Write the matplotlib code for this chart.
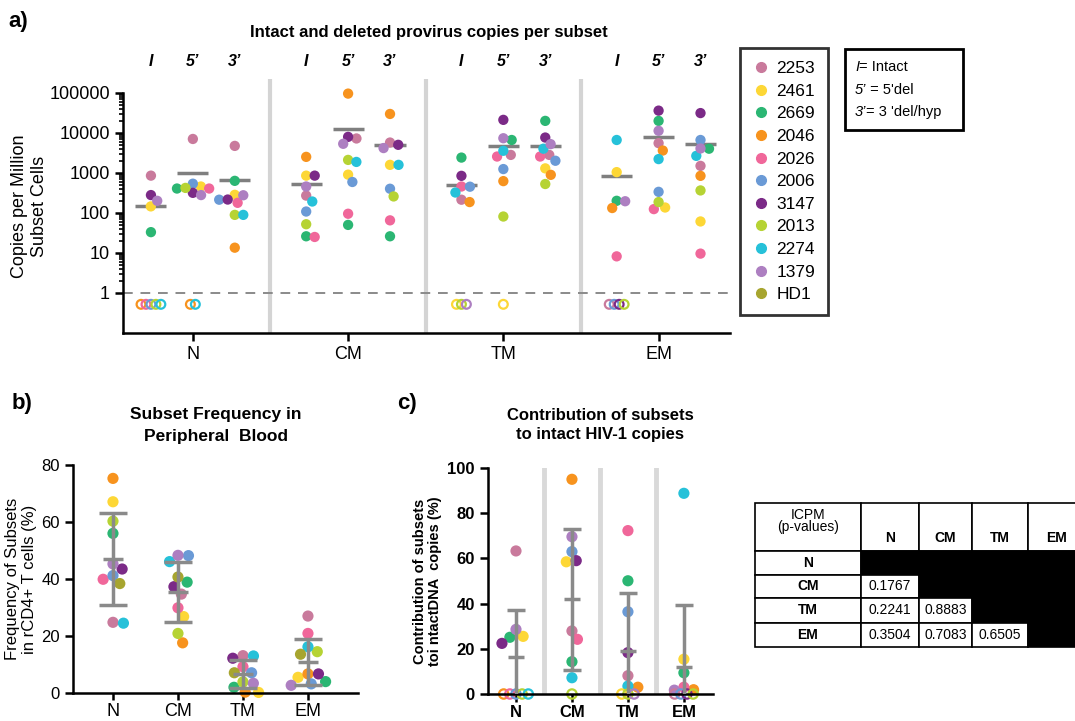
import numpy as np
import matplotlib
matplotlib.use('Agg')
import matplotlib.pyplot as plt
from matplotlib.lines import Line2D
from matplotlib.patches import Rectangle
from matplotlib.ticker import FixedLocator, NullFormatter
import matplotlib.transforms as mtransforms

plt.rcParams['font.family'] = ['Liberation Sans', 'DejaVu Sans']

patients = ['2253', '2461', '2669', '2046', '2026', '2006', '3147', '2013', '2274', '1379', 'HD1']
colors = ['#c97a9c', '#fdd736', '#2bb673', '#f7931e', '#f0679a', '#6a9ad6',
          '#7b2a87', '#b6d334', '#26c1d9', '#ad7fc1', '#a7a52f']
subsets = ['N', 'CM', 'TM', 'EM']
regions = ['I', '5\u2019', '3\u2019']

# a) copies per million subset cells, patient order as above (no HD1), 0 = not detected
N_I = [850, 145, 33, 0, 0, 0, 278, 0, 0, 200]
N_5 = [7000, 455, 405, 0, 405, 535, 316, 420, 0, 278]
N_3 = [4700, 282, 630, 13.5, 178, 213, 215, 89, 89, 275]
CM_I = [270, 850, 26, 2500, 25, 108, 850, 52, 192, 455]
CM_5 = [7200, 900, 50, 95000, 95, 590, 7900, 2100, 1870, 5300]
CM_3 = [5700, 1580, 26, 29500, 65, 400, 5000, 257, 1580, 4150]
TM_I = [213, 0, 2400, 186, 455, 450, 840, 0, 322, 0]
TM_5 = [2800, 0, 6600, 620, 2550, 1240, 21000, 81, 3550, 7300]
TM_3 = [2800, 1290, 19800, 890, 2550, 2000, 7600, 525, 4000, 5200]
EM_I = [0, 1040, 200, 132, 8.2, 0, 0, 0, 6600, 195]
EM_5 = [5500, 136, 19800, 3600, 124, 335, 35700, 186, 2200, 11200]
EM_3 = [1490, 61, 4000, 840, 9.6, 6600, 31000, 363, 2650, 4050]

# b) subset frequency in rCD4+ T cells (%), with HD1
freq_N = [24.8, 67.1, 56.0, 75.3, 39.9, 41.2, 43.5, 60.3, 24.5, 45.3, 38.4]
freq_CM = [34.7, 26.8, 38.9, 17.6, 29.9, 48.2, 37.3, 20.9, 46.1, 48.3, 40.7]
freq_TM = [13.1, 0.2, 2.0, 0.3, 9.2, 7.1, 12.2, 3.9, 13.0, 3.4, 7.1]
freq_EM = [27.0, 5.5, 4.0, 6.7, 20.9, 3.2, 6.7, 14.5, 16.2, 2.7, 13.6]

# c) contribution of subsets to intact copies (%)
contrib_N = [63.3, 25.5, 25.1, 0, 0, 0, 22.4, 0, 0, 28.6]
contrib_CM = [27.9, 58.5, 14.3, 95.0, 24.2, 63.0, 59.0, 0, 7.2, 69.6]
contrib_TM = [8.1, 0, 50.1, 3.0, 72.3, 36.4, 18.3, 0, 3.5, 0]
contrib_EM = [0, 15.4, 9.4, 1.9, 3.0, 0, 0, 0, 88.8, 1.7]

# p-value table (ICPM), lower triangle
pvals = [[None, None, None, None],
         [0.1767, None, None, None],
         [0.2241, 0.8883, None, None],
         [0.3504, 0.7083, 0.6505, None]]

copies = {'N': [N_I, N_5, N_3], 'CM': [CM_I, CM_5, CM_3],
          'TM': [TM_I, TM_5, TM_3], 'EM': [EM_I, EM_5, EM_3]}
freq = [freq_N, freq_CM, freq_TM, freq_EM]
contrib = [contrib_N, contrib_CM, contrib_TM, contrib_EM]

W, H = 1075, 721
GRAY = '#8a8a8a'


def swarm(y, d):
    # simple beeswarm: y in pixels, returns x offsets in pixels
    y = np.asarray(y, float)
    offs = np.zeros(len(y))
    done = []
    for i in np.argsort(-y, kind='stable'):
        cands = [0.0]
        for j in done:
            dy = y[i] - y[j]
            if abs(dy) < d:
                dx = np.sqrt(d * d - dy * dy)
                cands += [offs[j] + dx, offs[j] - dx]
        for c in sorted(cands, key=abs):
            if all((c - offs[j]) ** 2 + (y[i] - y[j]) ** 2 >= d * d - 1e-6 for j in done):
                offs[i] = c
                break
        done.append(i)
    return offs


def fax(l, t, r, b):
    return fig.add_axes([l / W, 1 - b / H, (r - l) / W, (b - t) / H])


fig = plt.figure(figsize=(W / 100, H / 100), dpi=100)

# ---------------- panel a ----------------
ax = fax(123, 79, 730, 333)
ax.set_yscale('log')
ax.set_ylim(0.1, 2.2e5)
ax.set_xlim(-0.45, 3.46)
for s in ['top', 'right']:
    ax.spines[s].set_visible(False)
ax.spines['left'].set_bounds(0.1, 1e5)
for s in ['left', 'bottom']:
    ax.spines[s].set_linewidth(1.8)
ax.set_yticks([1, 10, 100, 1000, 10000, 100000])
ax.set_yticklabels(['1', '10', '100', '1000', '10000', '100000'], fontsize=13)
ax.yaxis.set_minor_locator(FixedLocator([m * 10 ** k for k in range(0, 5) for m in range(2, 10)]))
ax.yaxis.set_minor_formatter(NullFormatter())
ax.tick_params(axis='y', which='major', length=6, width=1.8)
ax.tick_params(axis='y', which='minor', length=3, width=1.2)
ax.set_xticks(range(4))
ax.set_xticklabels(subsets, fontsize=13)
ax.tick_params(axis='x', length=6, width=1.8)
ax.set_ylabel('Copies per Million\nSubset Cells', fontsize=13, labelpad=1, linespacing=1.2)

for xs in [0.5, 1.5, 2.5]:
    ax.axvline(xs, color='#d4d4d4', lw=3, zorder=0)
ax.axhline(1, color=GRAY, lw=1.4, ls=(0, (5, 4)), zorder=1)

blend = mtransforms.blended_transform_factory(ax.transData, ax.transAxes)
cols10 = np.array(colors[:10])
for g, s in enumerate(subsets):
    for r, vals in enumerate(copies[s]):
        xc = g + (r - 1) * 0.27
        ax.text(xc, 1.067, regions[r], transform=blend, ha='center', va='center',
                fontsize=11.5, fontstyle='italic', fontweight='bold')
        vals = np.array(vals, float)
        det = vals > 0
        off = swarm(np.log10(vals[det]) * 40.1, 8.5) / 155
        ax.scatter(xc + off, vals[det], c=cols10[det], s=55, lw=0, zorder=3)
        nz = (~det).sum()
        zx = xc + (np.arange(nz) - (nz - 1) / 2) * 0.032
        ax.scatter(zx, np.full(nz, 0.52), facecolors='none', edgecolors=cols10[~det],
                   s=40, lw=1.6, zorder=3)
        ax.hlines(vals.mean(), xc - 0.1, xc + 0.1, color='#7f7f7f', lw=2.5, zorder=2)

fig.text(429 / W, 1 - 32 / H, 'Intact and deleted provirus copies per subset',
         ha='center', va='center', fontsize=12, fontweight='bold')
fig.text(8 / W, 1 - 21 / H, 'a)', ha='left', va='center', fontsize=16, fontweight='bold')

# legend
handles = [Line2D([], [], ls='', marker='o', color=c, markersize=7) for c in colors]
fig.legend(handles, patients, loc='upper left', bbox_to_anchor=(740 / W, 1 - 48 / H),
           borderaxespad=0, frameon=True, fancybox=False, edgecolor='black',
           fontsize=12.5, handlelength=0.9, handletextpad=0.45, labelspacing=0.43,
           borderpad=0.75).get_frame().set_linewidth(2)

fig.add_artist(Rectangle((845 / W, 1 - 130 / H), 118 / W, 81 / H, transform=fig.transFigure,
                         fill=False, lw=2, edgecolor='black'))
for k, (it, rest) in enumerate([('I', '= Intact'), ('5\u2019', ' = 5\'del'),
                                ('3\u2019', '= 3 \'del/hyp')]):
    t = fig.text(855 / W, 1 - (67 + 22.5 * k) / H, it, fontstyle='italic',
                 fontsize=10.5, va='center', ha='left')
    ax.annotate(rest, xy=(1, 0.5), xycoords=t, va='center', ha='left', fontsize=10.5,
                annotation_clip=False)

# ---------------- panel b ----------------
axb = fax(73, 465, 358, 693)
axb.set_ylim(0, 80)
axb.set_xlim(-0.615, 3.77)
for s in ['top', 'right']:
    axb.spines[s].set_visible(False)
for s in ['left', 'bottom']:
    axb.spines[s].set_linewidth(1.8)
axb.set_yticks([0, 20, 40, 60, 80])
axb.tick_params(axis='y', labelsize=12, length=6, width=1.8)
axb.set_xticks(range(4))
axb.set_xticklabels(subsets, fontsize=13)
axb.tick_params(axis='x', length=5, width=1.8, pad=2)
axb.set_ylabel('Frequency of Subsets\nin rCD4+ T cells (%)', fontsize=12, labelpad=3)
for g, vals in enumerate(freq):
    vals = np.array(vals, float)
    off = swarm(vals * 2.85, 10.5) / 65
    axb.scatter(g + off, vals, c=colors, s=65, lw=0, zorder=2, clip_on=False)
    m, sd = vals.mean(), vals.std(ddof=1)
    axb.errorbar(g, m, yerr=sd, color=GRAY, lw=2.5, capsize=10, capthick=2.5, zorder=3)
    axb.hlines(m, g - 0.16, g + 0.16, color=GRAY, lw=2.5, zorder=3)
axb.set_title('Subset Frequency in\nPeripheral  Blood', fontsize=12.5, fontweight='bold',
              pad=17, linespacing=1.6)
fig.text(12 / W, 1 - 404 / H, 'b)', ha='left', va='center', fontsize=16, fontweight='bold')

# ---------------- panel c ----------------
axc = fax(488, 468, 713, 694)
axc.set_ylim(0, 100)
axc.set_xlim(-0.5, 3.52)
for s in ['top', 'right']:
    axc.spines[s].set_visible(False)
for s in ['left', 'bottom']:
    axc.spines[s].set_linewidth(1.8)
axc.set_yticks([0, 20, 40, 60, 80, 100])
axc.set_yticklabels(['0', '20', '40', '60', '80', '100'], fontsize=12, fontweight='bold')
axc.set_xticks(range(4))
axc.set_xticklabels(subsets, fontsize=12, fontweight='bold')
axc.tick_params(axis='both', length=6, width=1.8)
axc.tick_params(axis='x', pad=2)
axc.set_ylabel('Contribution of subsets\ntoi ntactDNA  copies (%)', fontsize=10.5,
               fontweight='bold', labelpad=4, linespacing=1.1)
for xs in [0.5, 1.5, 2.5]:
    axc.axvline(xs, color='#d9d9d9', lw=3.5, zorder=0)
for g, vals in enumerate(contrib):
    vals = np.array(vals, float)
    det = vals > 0
    off = swarm(vals[det] * 2.26, 10) / 56
    axc.scatter(g + off, vals[det], c=cols10[det], s=65, lw=0, zorder=2, clip_on=False)
    nz = (~det).sum()
    zx = g + (np.arange(nz) - (nz - 1) / 2) * 0.11
    axc.scatter(zx, np.zeros(nz), facecolors='none', edgecolors=cols10[~det], s=45,
                lw=1.6, zorder=2, clip_on=False)
    m, sd = vals.mean(), vals.std(ddof=1)
    axc.errorbar(g, m, yerr=sd, color=GRAY, lw=2.5, capsize=6.5, capthick=2.5, zorder=3)
    axc.hlines(m, g - 0.14, g + 0.14, color=GRAY, lw=2.5, zorder=3)
axc.set_title('Contribution of subsets\nto intact HIV-1 copies', fontsize=12,
              fontweight='bold', pad=21, linespacing=1.3)
fig.text(397 / W, 1 - 404 / H, 'c)', ha='left', va='center', fontsize=16, fontweight='bold')

# ---------------- table ----------------
axt = fax(755, 503, 1075, 647)
axt.set_xlim(0, 320)
axt.set_ylim(144, 0)
axt.axis('off')
xe = [0, 106, 164, 217, 273, 330]
ye = [0, 48, 72, 95, 120, 144]
for i in range(5):
    for j in range(5):
        black = i > 0 and j > 0 and pvals[i - 1][j - 1] is None
        axt.add_patch(Rectangle((xe[j], ye[i]), xe[j + 1] - xe[j], ye[i + 1] - ye[i],
                                facecolor='black' if black else 'white', edgecolor='black',
                                lw=1.2, clip_on=False))
        xm = (xe[j] + xe[j + 1]) / 2
        ym = (ye[i] + ye[i + 1]) / 2
        if i == 0 and j == 0:
            axt.text(xm, 18, 'ICPM\n(p-values)', ha='center', va='center', fontsize=10,
                     linespacing=0.9)
        elif i == 0:
            axt.text(xm, 35, subsets[j - 1], ha='center', va='center', fontsize=10,
                     fontweight='bold')
        elif j == 0:
            axt.text(xm, ym, subsets[i - 1], ha='center', va='center', fontsize=10,
                     fontweight='bold')
        elif not black:
            axt.text(xm, ym, f'{pvals[i - 1][j - 1]:.4f}', ha='center', va='center',
                     fontsize=10)

fig.savefig('out.png', dpi=100)
